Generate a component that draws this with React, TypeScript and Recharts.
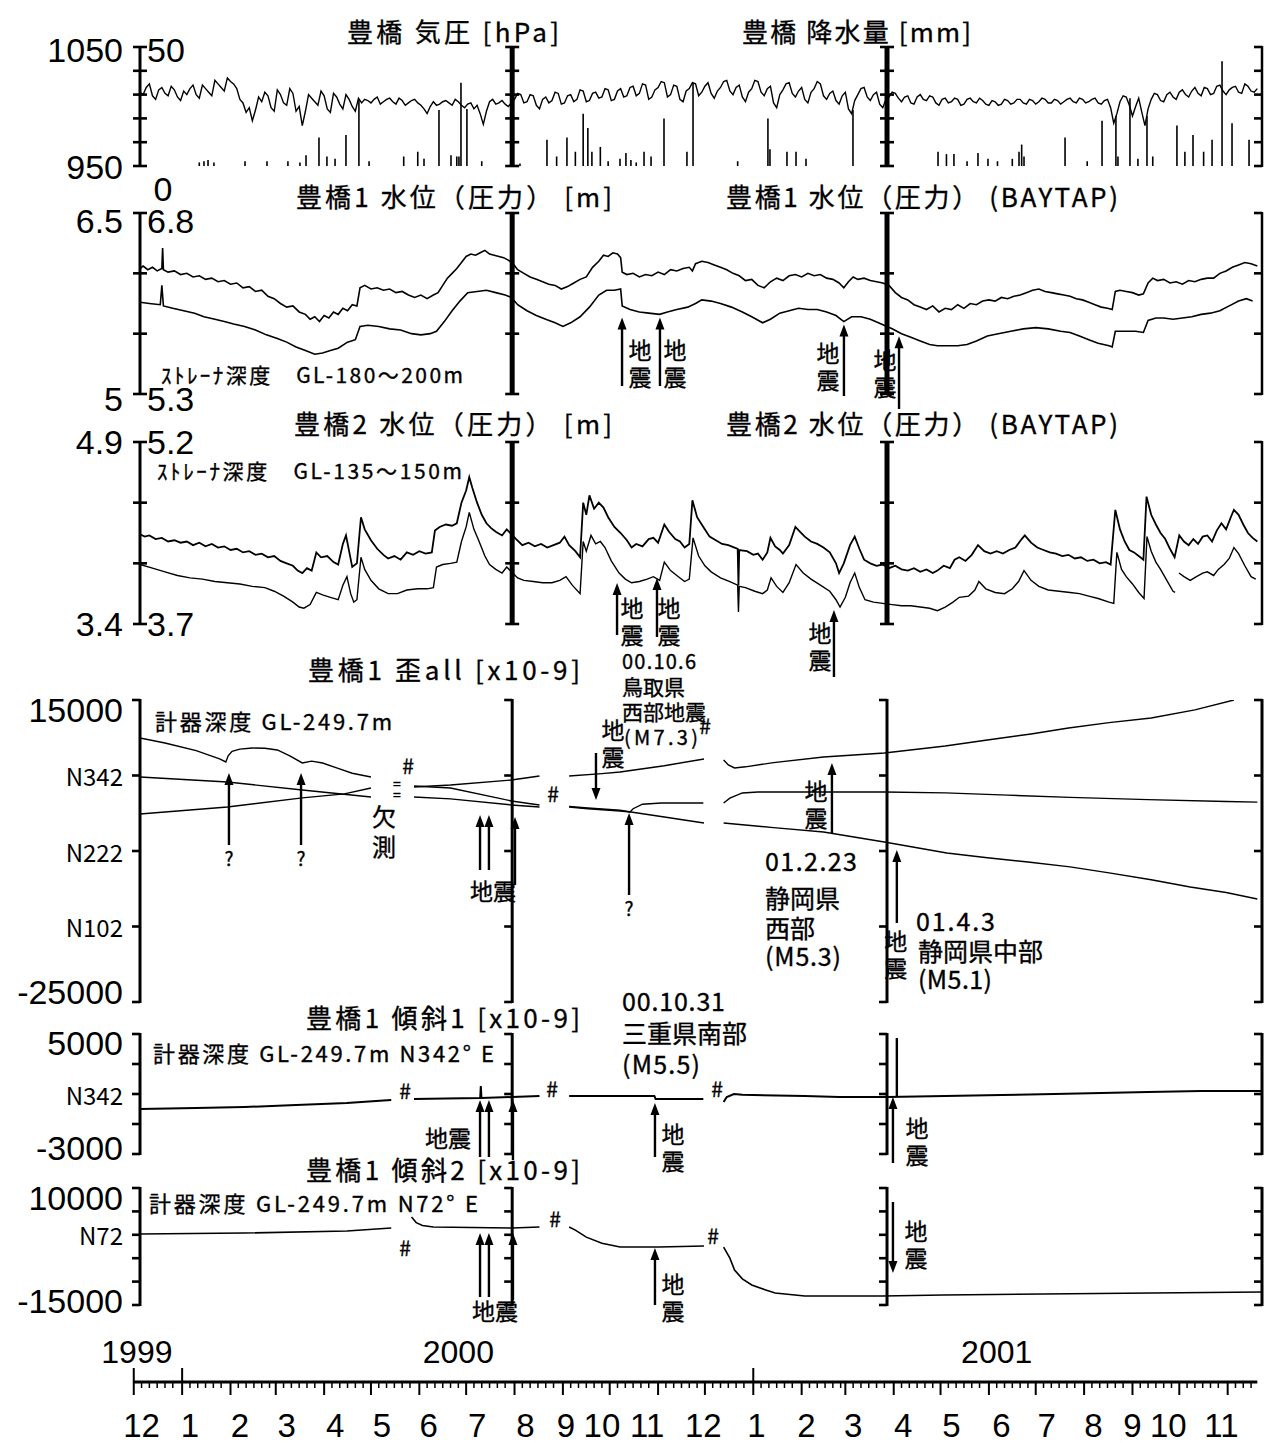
import React from "react";
import { ComposedChart, Line, Bar, XAxis, YAxis, ReferenceLine } from "recharts";

// x values are days counted from 1999-12-01
const W = 1267;
const H = 1443;
const D0 = 4;
const D1 = 723;
const JOINTS = [242.5, 482.7];
const PLOT_L = 140;
const PLOT_R = 1262;
const PX_DAY = (PLOT_R - PLOT_L) / (D1 - D0);

const JP = '"Noto Sans CJK JP", "Noto Sans", sans-serif';
const NUM = '"Liberation Sans", Arial, sans-serif';

// 豊橋 気圧 [hPa]: readings on days 4, 8, 12, ... and the in-between days 6, 10, 14, ...
const pressure = [
  1012, 1016, 1009, 1014, 1011, 1017, 1008, 1013, 1015, 1010, 1018, 1012, 1022, 1016, 1024, 1019,
  1006, 995, 988, 1008,
  1012, 999, 1014, 1003, 1015, 996,
  984, 1010, 1004, 1013, 998, 1011, 1002, 1010, 1000, 1007,
  1006, 1003, 1008, 1004, 1007, 1002, 1005, 1003, 1006, 1001, 994, 1004, 1002, 1005, 1001, 1004,
  999, 1003, 1001, 985, 1004, 1002, 1005, 1000,
  1006, 1010, 1004, 1009, 998, 1008, 1005, 1011, 1003, 1010, 1006, 1013, 1005, 1012, 1008, 1014,
  1006, 1015, 1009, 1017, 1011, 1018, 1008, 1016, 1020, 1010, 1017, 1004, 1015, 1019,
  1012, 1020, 1007, 1016, 1022, 1010, 1018, 1004, 1015, 1021, 1009, 1017, 999, 1014, 1020, 1008,
  1016, 1003, 1015, 1019, 1006, 1013, 1002, 1012, 994, 1010, 1016, 1005, 1012, 999, 1008,
  1011, 1004, 1009, 1002, 1010, 1005, 1008, 1001, 1007, 1004, 1006, 1002, 1007, 1003, 1005, 1001,
  1004, 1002, 1005, 1003, 1006, 1002, 1005, 1004, 1006, 1003, 1005, 1004, 1007, 1003, 1006, 1004,
  1007, 1002,
  1006, 986, 1004, 1008, 992, 1007, 984, 1006, 1010, 1004, 1012, 1006, 1014, 1008, 1016, 1009,
  1015, 1011, 1018, 1010, 1016, 1012, 1019, 1013, 1015,
];
const pressureMid = [
  1010, 1019, 1006, 1016, 1009, 1014, 1005, 1010, 1018, 1007, 1015, 1009, 1019, 1013, 1021, 1015,
  1003, 999, 997, 1004,
  1009, 996, 1010, 1001, 1011, 1000,
  996, 1007, 1001, 1009, 995, 1008, 998, 1006, 996, 1003,
  1005, 1006, 1002, 1006, 1004, 1007, 1001, 1005, 1003, 998, 1000, 1001, 1004, 1003, 1006, 1001,
  1002, 998, 994, 996, 1006, 1003, 1002, 1003,
  1011, 1003, 1010, 1001, 1006, 1003, 1012, 1002, 1009, 1004, 1014, 1004, 1011, 1007, 1015, 1005,
  1013, 1008, 1016, 1009, 1019, 1006, 1014, 1021, 1008, 1018, 1006, 1013, 1020, 1009,
  1017, 1011, 1013, 1021, 1013, 1016, 1008, 1012, 1022, 1012, 1015, 1003, 1010, 1019, 1011, 1013,
  1006, 1012, 1021, 1009, 1011, 1005, 1009, 998, 1005, 1015, 1008, 1010, 1002, 1006, 1012,
  1007, 1008, 1003, 1008, 1006, 1009, 1003, 1006, 1003, 1007, 1001, 1006, 1004, 1007, 1002, 1005,
  1001, 1006, 1002, 1006, 1003, 1006, 1002, 1007, 1003, 1006, 1002, 1006, 1004, 1007, 1003, 1006,
  1003, 1005,
  999, 994, 1009, 1001, 1000, 995, 998, 1011, 1005, 1010, 1008, 1012, 1010, 1013, 1011, 1016,
  1010, 1017, 1013, 1014, 1017, 1011, 1017, 1012,
];

// 豊橋 降水量 [mm]: [day, mm]
const rain = [
  [42, 1.5], [45, 2], [47.6, 2.5], [51.4, 1.5], [71.3, 2], [85.4, 2], [98.8, 2], [106.5, 1.5],
  [110.4, 4.5], [118.7, 12], [123.8, 4], [129, 3], [136, 13], [144.3, 28], [150.8, 2], [173, 4],
  [182, 6], [186, 3], [195.6, 23.5], [203.3, 4.5], [207, 4], [208.4, 4], [209.7, 35], [213.5, 24],
  [223, 2], [247.5, 1], [264.8, 11], [271, 4], [277.6, 12], [283, 6], [288, 22], [291, 16],
  [293.6, 6], [299, 8], [304, 2], [311.6, 3], [315.4, 5.5], [318.6, 2.5], [322, 1.5], [327, 6],
  [331.5, 4], [339.8, 20], [354.5, 6], [358.4, 35], [387, 2], [406.4, 20], [407.7, 7], [418.6, 6],
  [424.4, 6], [430.8, 3], [460.9, 23.5], [515.4, 6], [520.8, 5], [525.6, 5], [534, 2], [541, 5.5],
  [547.4, 3], [553.5, 2], [563, 3], [567.3, 6], [569, 9], [570.5, 4], [596.8, 12], [611, 2],
  [620.5, 19], [629.4, 21], [630.7, 4], [638.4, 28.5], [643.5, 3], [649.3, 21], [653, 4],
  [668.5, 17], [673.6, 6], [678.8, 13], [685.6, 6], [691, 11], [697.4, 44], [703.8, 18], [714.7, 11],
];

// 豊橋1 水位（圧力） [m]
const well1Raw = [
  [4, 6.04], [6, 6.06], [9, 6.03], [12, 6.05], [15, 6.02], [18, 6.04], [18.5, 6.21], [19, 6.03],
  [22, 6.01], [26, 6.02], [30, 5.99], [34, 6.0], [38, 5.97], [42, 5.98], [46, 5.95], [50, 5.96],
  [54, 5.93], [58, 5.94], [62, 5.91], [66, 5.92], [70, 5.88], [74, 5.89], [78, 5.85], [82, 5.86],
  [86, 5.81], [90, 5.79], [94, 5.75], [98, 5.72], [102, 5.73], [106, 5.68], [110, 5.66], [113, 5.62],
  [116, 5.64], [119, 5.6], [122, 5.65], [125, 5.63], [128, 5.68], [131, 5.66], [134, 5.71], [137, 5.69],
  [140, 5.74], [143, 5.73], [145, 5.88], [148, 5.9], [152, 5.87], [156, 5.88], [160, 5.86], [164, 5.87],
  [168, 5.84], [172, 5.85], [176, 5.82], [180, 5.8], [184, 5.82], [188, 5.79], [192, 5.82], [195, 5.84],
  [198, 5.9], [201, 5.96], [204, 6.0], [207, 6.04], [210, 6.09], [213, 6.14], [216, 6.16], [219, 6.15],
  [222, 6.17], [225, 6.19], [228, 6.16], [231, 6.15], [234, 6.14], [237, 6.13], [240, 6.11], [243, 6.08],
  [246, 6.03], [250, 6.0], [254, 5.97], [258, 5.95], [262, 5.93], [266, 5.91], [270, 5.9], [274, 5.87],
  [278, 5.89], [282, 5.92], [286, 5.95], [290, 5.97], [294, 6.05], [298, 6.1], [301, 6.15], [304, 6.14],
  [307, 6.17], [310, 6.16], [312, 6.13], [313, 6.01], [316, 5.99], [320, 6.0], [324, 5.97], [328, 5.99],
  [332, 5.98], [336, 6.01], [340, 5.99], [344, 6.03], [348, 6.02], [352, 6.04], [356, 6.05], [358, 6.02],
  [360, 6.08], [364, 6.1], [368, 6.09], [372, 6.07], [376, 6.05], [380, 6.03], [384, 6.0], [388, 5.98],
  [392, 5.94], [396, 5.95], [400, 5.9], [404, 5.88], [408, 5.93], [412, 5.96], [416, 5.94], [420, 5.98],
  [424, 5.99], [428, 5.97], [432, 6.0], [436, 5.98], [440, 5.99], [444, 5.96], [448, 5.95], [452, 5.92],
  [455, 5.88], [458, 5.93], [461, 5.97], [464, 5.95], [468, 5.96], [472, 5.94], [476, 5.93], [480, 5.92],
  [484, 5.9], [488, 5.84], [492, 5.8], [496, 5.78], [500, 5.74], [504, 5.72], [508, 5.7], [512, 5.73],
  [516, 5.68], [520, 5.71], [524, 5.7], [528, 5.74], [532, 5.71], [536, 5.75], [540, 5.74], [544, 5.77],
  [548, 5.78], [552, 5.77], [556, 5.8], [560, 5.79], [564, 5.81], [568, 5.82], [572, 5.84], [576, 5.86],
  [580, 5.87], [584, 5.85], [588, 5.84], [592, 5.83], [596, 5.82], [600, 5.81], [604, 5.79], [608, 5.78],
  [612, 5.76], [616, 5.74], [620, 5.72], [624, 5.71], [627, 5.7], [629, 5.85], [632, 5.86], [636, 5.85],
  [640, 5.84], [644, 5.82], [647, 5.83], [650, 5.92], [653, 5.96], [656, 5.94], [660, 5.95], [664, 5.92],
  [668, 5.93], [672, 5.91], [676, 5.94], [680, 5.93], [684, 5.95], [688, 5.96], [692, 5.96], [696, 6.0],
  [700, 6.02], [704, 6.05], [708, 6.07], [712, 6.09], [716, 6.08], [720, 6.06],
];

// 豊橋1 水位（圧力） (BAYTAP)
const well1Tidal = [
  [4, 6.06], [10, 6.05], [17, 6.04], [18, 6.2], [19, 6.03], [25, 6.01], [32, 5.99], [39, 5.97],
  [45, 5.94], [52, 5.92], [58, 5.9], [64, 5.88], [71, 5.86], [78, 5.83], [85, 5.79], [92, 5.76],
  [98, 5.73], [104, 5.69], [110, 5.66], [116, 5.63], [121, 5.64], [126, 5.66], [131, 5.68], [137, 5.73],
  [142, 5.75], [145, 5.86], [150, 5.87], [157, 5.86], [164, 5.84], [171, 5.83], [178, 5.8], [184, 5.79],
  [190, 5.8], [194, 5.82], [199, 5.9], [204, 5.99], [209, 6.07], [214, 6.14], [220, 6.15], [226, 6.16],
  [232, 6.14], [238, 6.12], [242, 6.1], [246, 6.04], [252, 5.99], [258, 5.95], [264, 5.92], [270, 5.89],
  [275, 5.86], [280, 5.89], [286, 5.94], [292, 6.02], [298, 6.12], [303, 6.16], [308, 6.16], [312, 6.17],
  [313, 6.03], [318, 6.0], [324, 5.98], [330, 5.97], [337, 5.96], [342, 5.98], [348, 6.0], [355, 6.02],
  [360, 6.05], [364, 6.08], [370, 6.07], [376, 6.05], [383, 6.02], [390, 5.98], [396, 5.94], [403, 5.89],
  [408, 5.92], [414, 5.97], [420, 5.99], [426, 6.01], [432, 6.0], [438, 6.0], [444, 5.98], [450, 5.95],
  [455, 5.9], [460, 5.94], [466, 5.94], [472, 5.92], [479, 5.88], [486, 5.84], [492, 5.8], [498, 5.77],
  [504, 5.74], [510, 5.71], [515, 5.7], [522, 5.7], [528, 5.7], [534, 5.71], [540, 5.74], [547, 5.78],
  [554, 5.8], [562, 5.82], [570, 5.84], [578, 5.85], [586, 5.84], [594, 5.82], [600, 5.81], [606, 5.78],
  [612, 5.75], [618, 5.72], [625, 5.7], [627, 5.69], [629, 5.82], [636, 5.82], [642, 5.82], [647, 5.81],
  [650, 5.91], [655, 5.93], [660, 5.93], [666, 5.92], [672, 5.93], [678, 5.94], [684, 5.96], [690, 5.97],
  [696, 5.99], [702, 6.03], [708, 6.07], [713, 6.09], [717, 6.07],
];

// 豊橋2 水位（圧力） [m]
const well2Raw = [
  [4, 4.14], [7, 4.12], [10, 4.13], [14, 4.1], [18, 4.11], [22, 4.08], [26, 4.09], [30, 4.07],
  [34, 4.08], [38, 4.05], [42, 4.07], [46, 4.04], [50, 4.06], [54, 4.03], [58, 4.04], [62, 4.01],
  [66, 4.02], [70, 3.99], [74, 4.0], [78, 3.97], [82, 3.98], [86, 3.95], [90, 3.96], [94, 3.92],
  [98, 3.9], [102, 3.88], [105, 3.84], [108, 3.82], [111, 3.86], [114, 3.84], [117, 3.99], [120, 3.95],
  [124, 3.96], [128, 3.91], [131, 3.89], [134, 4.06], [136, 4.13], [138, 4.0], [140, 3.87], [143, 3.9],
  [145.6, 4.28], [148, 4.18], [152, 4.09], [156, 4.02], [160, 3.97], [163, 3.94], [167, 3.96], [171, 3.93],
  [175, 3.99], [179, 3.97], [183, 4.0], [187, 3.98], [191, 3.99], [193, 4.17], [196, 4.2], [200, 4.22],
  [204, 4.21], [207, 4.23], [210, 4.4], [213, 4.5], [215, 4.61], [217, 4.52], [220, 4.4], [223, 4.3],
  [226, 4.23], [229, 4.19], [232, 4.16], [236, 4.13], [239, 4.18], [242, 4.14], [245, 4.1], [249, 4.05],
  [253, 4.07], [257, 4.04], [261, 4.06], [265, 4.03], [269, 4.05], [273, 4.07], [276, 4.12], [279, 4.05],
  [283, 4.0], [286, 3.95], [288, 4.4], [290, 4.3], [292, 4.46], [295, 4.35], [298, 4.4], [301, 4.36],
  [304, 4.28], [308, 4.2], [312, 4.15], [316, 4.09], [319, 4.03], [322, 4.06], [326, 4.04], [330, 4.1],
  [333, 4.11], [336, 4.07], [340, 4.22], [343, 4.16], [347, 4.1], [350, 4.08], [353, 4.03], [356, 4.06],
  [358, 4.42], [361, 4.28], [365, 4.2], [369, 4.12], [373, 4.09], [377, 4.06], [381, 4.05], [385, 4.03],
  [387, 4.02], [387.5, 3.72], [388, 4.01], [393, 4.0], [397, 3.97], [400, 3.98], [403, 3.93], [406, 3.99],
  [408, 4.11], [411, 4.04], [414, 4.01], [416, 3.98], [420, 4.05], [424, 4.2], [427, 4.16], [430, 4.12],
  [434, 4.08], [438, 4.06], [442, 4.03], [446, 3.99], [450, 3.9], [452, 3.82], [455, 3.9], [459, 4.05],
  [462, 4.12], [465, 4.02], [468, 3.93], [472, 3.9], [476, 3.88], [480, 3.89], [484, 3.86], [488, 3.88],
  [492, 3.85], [496, 3.84], [500, 3.86], [504, 3.83], [508, 3.85], [512, 3.82], [515, 3.84], [519, 3.88],
  [523, 3.86], [526, 3.93], [529, 3.95], [533, 3.92], [537, 3.97], [541, 4.05], [545, 4.0], [549, 3.98],
  [553, 4.0], [557, 3.98], [561, 4.01], [565, 4.03], [569, 4.1], [571, 4.13], [575, 4.07], [579, 4.03],
  [583, 4.01], [587, 3.99], [591, 3.98], [595, 3.96], [599, 3.97], [603, 3.94], [607, 3.95], [611, 3.92],
  [615, 3.93], [619, 3.9], [623, 3.91], [626, 3.89], [629, 4.34], [632, 4.18], [635, 4.08], [638, 4.01],
  [641, 3.99], [644, 3.96], [647, 3.93], [649, 4.45], [652, 4.3], [655, 4.22], [658, 4.15], [661, 4.1],
  [664, 4.02], [667, 3.95], [670, 4.13], [673, 4.08], [676, 4.05], [679, 4.1], [682, 4.06], [685, 4.12],
  [688, 4.13], [691, 4.08], [694, 4.17], [697, 4.23], [700, 4.18], [703, 4.28], [705, 4.34], [708, 4.3],
  [711, 4.22], [714, 4.15], [717, 4.11], [720, 4.08],
];

// 豊橋2 水位（圧力） (BAYTAP)
const well2Tidal = [
  [4, 4.19], [12, 4.16], [20, 4.13], [28, 4.1], [36, 4.08], [44, 4.07], [52, 4.05], [60, 4.04],
  [68, 4.03], [76, 4.01], [84, 4.0], [90, 3.97], [96, 3.93], [102, 3.88], [106, 3.84], [109, 3.83],
  [113, 3.86], [117, 3.96], [121, 3.94], [126, 3.92], [131, 3.9], [134, 4.02], [136.6, 4.09], [139, 3.95],
  [141, 3.88], [143, 3.9], [145.6, 4.25], [148, 4.15], [152, 4.06], [157, 3.99], [163, 3.95], [169, 3.95],
  [175, 3.98], [182, 3.99], [188, 3.99], [192, 4.0], [194, 4.17], [198, 4.19], [203, 4.2], [207, 4.21],
  [210, 4.38], [213, 4.5], [215, 4.62], [218, 4.48], [221, 4.39], [225, 4.26], [228, 4.19], [232, 4.15],
  [236, 4.12], [239, 4.17], [242, 4.13], [246, 4.08], [250, 4.06], [256, 4.05], [262, 4.04], [268, 4.04],
  [273, 4.06], [277, 4.09], [281, 4.02], [286, 3.95], [288, 4.38], [290, 4.3], [293, 4.43], [296, 4.36],
  [299, 4.38], [302, 4.33], [306, 4.22], [311, 4.12], [315, 4.07], [319, 4.04], [324, 4.05], [329, 4.07],
  [333, 4.09], [337, 4.06], [340, 4.21], [344, 4.14], [349, 4.09], [353, 4.05], [356, 4.07], [358.4, 4.41],
  [362, 4.26], [366, 4.18], [370, 4.13], [376, 4.08], [382, 4.05], [387, 4.02], [387.5, 3.8], [388, 4.01],
  [392, 4.0], [398, 3.97], [403, 3.95], [406, 3.98], [408.4, 4.08], [412, 4.01], [416, 3.96], [420, 4.04],
  [424.4, 4.19], [429, 4.12], [434, 4.07], [440, 4.02], [446, 3.97], [450, 3.9], [452.6, 3.84], [456, 3.92],
  [459, 4.04], [462, 4.12], [465, 4.0], [468.6, 3.9], [474, 3.88], [480, 3.87], [486, 3.86], [492, 3.85],
  [498, 3.85], [504, 3.84], [510, 3.83], [515, 3.81], [520, 3.84], [525, 3.88], [529, 3.92], [535, 3.93],
  [539, 3.98], [541.6, 4.05], [546, 3.99], [552, 3.96], [558, 3.95], [563, 3.99], [567, 4.05], [570.5, 4.14],
  [575, 4.06], [580, 4.01], [586, 3.98], [593, 3.97], [600, 3.96], [606, 3.95], [612, 3.93], [618, 3.91],
  [625, 3.88], [628, 3.87], [630, 4.29], [633, 4.15], [636, 4.09], [640, 4.03], [644, 3.96], [647.4, 3.91],
  [649.3, 4.42], [652, 4.3], [655, 4.21], [658, 4.15], [662, 4.06], [666, 3.97], [667.3, 3.96], [667.5, null],
  [669.8, 4.12], [673, 4.09], [677, 4.06], [681, 4.09], [685, 4.12], [688, 4.13], [692, 4.1], [695, 4.15],
  [698.7, 4.19], [702, 4.24], [705, 4.33], [708, 4.28], [712, 4.18], [716, 4.09], [719, 4.07],
];

// 豊橋1 歪 [x10-9], three components (null = 欠測)
const strainA = [
  [4, 9970], [20, 9300], [40, 8300], [55, 7200], [59, 6790], [60.5, 7600], [63, 8200], [68, 8500],
  [76, 8640], [84, 8600], [92, 8380], [100, 7600], [108, 6660], [114, 6900], [121, 6660], [130, 6000],
  [140, 5300], [152, 4800], [153, null], [179.6, 2160], [203, 1900], [242, 1100], [260, 830], [261, null],
  [279, 830], [291, 600], [311.6, 300], [318, 170], [320, 600], [326, 1200], [338, 1360], [365, 1360],
  [366, null], [378, 1360], [382, 2000], [390, 2690], [400, 2820], [442, 2820], [481, 2820], [520, 2700],
  [560, 2400], [600, 2100], [650, 1800], [700, 1550], [720, 1480],
];
const strainB = [
  [4, 4800], [60, 4140], [108, 3080], [152, 2160], [153, null], [179.6, 3610], [203, 3350], [242, 1630],
  [260, 1100], [261, null], [279, 900], [291, 700], [311.6, 400], [318.6, 170], [340, -500], [365.4, -1290],
  [366, null], [378, -1290], [410, -1900], [442, -2480], [481, -3800], [521, -5260], [547, -5900],
  [573, -6450], [600, -7100], [625, -7900], [652, -8800], [677, -9760], [700, -10500], [720, -11350],
];
const strainC = [
  [4, -90], [60, 830], [108, 2030], [135, 2560], [152, 3350], [153, null], [179.6, 3480], [203, 3750],
  [242, 4400], [260, 4940], [261, null], [279, 4940], [300, 5250], [311.6, 5470], [340, 6300],
  [365.4, 7190], [366, null], [378, 7060], [381, 6400], [385, 6000], [392, 6150], [410, 6700], [442, 7450],
  [481, 7980], [520, 8900], [547, 9700], [575, 10500], [599, 11290], [625, 12000], [652, 12620],
  [680, 13700], [705, 15000],
];

// 豊橋1 傾斜1 / 傾斜2 [x10-9]
const tilt1 = [
  [4, 0], [40, 60], [71, 130], [100, 250], [136.6, 400], [160, 560], [165, 600], [166, null], [179.6, 670],
  [200, 700], [222, 730], [222.4, 1530], [222.8, 730], [242.4, 800], [260, 870], [261, null], [279, 870],
  [311, 870], [333.6, 870], [334.4, 670], [365, 670], [366, null], [378, 470], [380, 800], [384.6, 1000],
  [390, 950], [430, 870], [452, 800], [483, 800], [520, 860], [556, 930], [590, 1000], [620, 1070],
  [650, 1130], [684, 1200], [723, 1200],
];
const tilt2 = [
  [4, 170], [71, 380], [136.6, 810], [165, 1450], [166, null], [178, 3800], [181, 2600], [185, 2000],
  [192, 1660], [242.4, 1450], [260, 1660], [261, null], [279, 1660], [283, 1000], [290, -500], [300, -1800],
  [311.6, -2610], [336.6, -2610], [365.4, -2400], [366, null], [378, -2610], [382, -5000], [385, -7520],
  [390, -9400], [396, -10730], [405, -11800], [411, -12440], [430, -13080], [480, -13080], [519, -12870],
  [600, -12600], [723, -12220],
];

// bottom time axis
const monthStarts = [0, 31, 62, 91, 122, 152, 183, 213, 244, 275, 305, 336, 366, 397, 428, 456, 487, 517, 548, 578, 609, 640, 670, 701];
const monthLabels = ["12", "1", "2", "3", "4", "5", "6", "7", "8", "9", "10", "11", "12", "1", "2", "3", "4", "5", "6", "7", "8", "9", "10", "11"];
const monthLabelDays = [5, 36, 68, 98, 129, 159, 189, 220, 251, 277, 300, 329, 365, 399, 431, 461, 493, 524, 556, 585, 615, 640, 663, 697];
const yearStarts = [0, 31, 397];
const yearLabels = ["1999", "2000", "2001"];
const yearLabelDays = [2, 208, 553];

// earthquake arrows: day, tail value, head value, label placement
const arrowsWell1 = [
  { d: 312.9, from: 5.066, to: 5.635, text: "地震", mode: "v", dx: 18, dy: -37 },
  { d: 337.2, from: 5.066, to: 5.635, text: "地震", mode: "v", dx: 15, dy: -37 },
  { d: 455.1, from: 4.983, to: 5.577, text: "地震", mode: "v", dx: -16, dy: -44 },
  { d: 490.4, from: 4.876, to: 5.478, text: "地震", mode: "v", dx: -14, dy: -50 },
];
const arrowsWell2 = [
  { d: 309.7, from: 3.309, to: 3.738, text: "地震", mode: "v", dx: 15, dy: -28 },
  { d: 335.3, from: 3.293, to: 3.779, text: "地震", mode: "v", dx: 12, dy: -30 },
  { d: 448.7, from: 2.963, to: 3.515, text: "地震", mode: "v", dx: -14, dy: -45 },
];
const arrowsStrain = [
  { d: 61.0, from: -4205, to: 5331, text: "?", mode: "h", dx: 0, dy: 13 },
  { d: 107.2, from: -4205, to: 5331, text: "?", mode: "h", dx: 0, dy: 13 },
  { d: 221.9, from: -7517, to: -232 },
  { d: 227.6, from: -7517, to: -232, text: "地震", mode: "h", dx: 4, dy: 20 },
  { d: 244.3, from: -9503, to: -497 },
  { d: 296.2, from: 7980, to: 1755, text: "地震", mode: "v", dx: 17, dy: -24 },
  { d: 317.4, from: -10828, to: 33, text: "?", mode: "h", dx: 0, dy: 12 },
  { d: 447.4, from: -2616, to: 6656, text: "地震", mode: "v", dx: -16, dy: -43 },
  { d: 489.0, from: -14536, to: -4868, text: "地震", mode: "v", dx: -1, dy: 17 },
];
const arrowsTilt1 = [
  { d: 221.9, from: -3200, to: 600, text: "地震", mode: "h", dx: -32, dy: -20 },
  { d: 227.6, from: -3200, to: 600 },
  { d: 243.0, from: -3400, to: 600 },
  { d: 334.0, from: -3200, to: 400, text: "地震", mode: "v", dx: 18, dy: -24 },
  { d: 486.5, from: -3600, to: 800, text: "地震", mode: "v", dx: 24, dy: -36 },
  { d: 489.0, from: 4733, to: 800, head: false },
];
const arrowsTilt2 = [
  { d: 221.9, from: -13291, to: 384 },
  { d: 227.6, from: -13291, to: 384, text: "地震", mode: "h", dx: 6, dy: 13 },
  { d: 243.0, from: -13932, to: 384 },
  { d: 334.0, from: -15000, to: -2821, text: "地震", mode: "v", dx: 18, dy: -22 },
  { d: 486.5, from: 7009, to: -8162, text: "地震", mode: "v", dx: 23, dy: 28 },
];

const rows = (pairs: any[]) => pairs.map(([d, v]) => ({ d, v }));
const pressureRows = [
  ...pressure.map((v, i) => ({ d: 4 + i * 4, v })),
  ...pressureMid.map((v, i) => ({ d: 6 + i * 4, v })),
].sort((a, b) => a.d - b.d);
const rainRows = rain.map(([d, mm]) => ({ d, mm }));

const PAD_T = 70;
const PAD_B = 110;

// vertical axis bar with evenly spaced ticks; "cross" ticks stick out both sides
function axisShape(n: number, weight: number, cross: boolean) {
  return (p: any) => {
    const x = p.x1;
    const ya = Math.min(p.y1, p.y2);
    const yb = Math.max(p.y1, p.y2);
    const marks = [];
    for (let i = 0; i <= n; i++) {
      const y = ya + ((yb - ya) * i) / n;
      marks.push(
        <line key={i} x1={cross ? x - 7 : x - 8} x2={cross ? x + 7 : x} y1={y} y2={y} stroke="#000" strokeWidth={2.6} />
      );
    }
    return (
      <g>
        <line x1={x} x2={x} y1={ya - 1} y2={yb + 1} stroke="#000" strokeWidth={weight} />
        {marks}
      </g>
    );
  };
}

function arrowShape(a: any) {
  return (p: any) => {
    const { x1, y1, x2, y2 } = p;
    const dir = y2 < y1 ? -1 : 1;
    const head = a.head !== false;
    const hl = 12;
    const hw = 4.5;
    let label = null;
    if (a.text && a.mode === "v") {
      label = a.text.split("").map((c: string, i: number) => (
        <text key={i} x={x1 + a.dx} y={y1 + a.dy + i * 27} fontSize={23} fontFamily={JP} textAnchor="middle" dominantBaseline="central" fill="#000" stroke="#000" strokeWidth={0.35}>
          {c}
        </text>
      ));
    } else if (a.text) {
      label = (
        <text x={x1 + a.dx} y={y1 + a.dy} fontSize={a.text === "?" ? 19 : 23} fontFamily={JP} textAnchor="middle" dominantBaseline="central" fill="#000" stroke="#000" strokeWidth={0.35}>
          {a.text}
        </text>
      );
    }
    return (
      <g>
        <line x1={x1} y1={y1} x2={x2} y2={head ? y2 - dir * hl * 0.6 : y2} stroke="#000" strokeWidth={2.4} />
        {head && <polygon points={`${x2},${y2} ${x2 - hw},${y2 - dir * hl} ${x2 + hw},${y2 - dir * hl}`} fill="#000" />}
        {label}
      </g>
    );
  };
}

function arrowLines(list: any[]) {
  return list.map((a, i) => (
    <ReferenceLine
      key={`arrow-${i}`}
      yAxisId="l"
      ifOverflow="visible"
      segment={[{ x: a.d, y: a.from }, { x: a.d, y: a.to }]}
      shape={arrowShape(a)}
    />
  ));
}

// thin black stick for each rain reading
const rainStick = (p: any) => {
  const cx = p.x + p.width / 2;
  return <line x1={cx} x2={cx} y1={p.y} y2={p.y + p.height} stroke="#000" strokeWidth={1.6} />;
};

type PanelProps = {
  top: number;
  bottom: number;
  domain: [number, number];
  rightDomain?: [number, number];
  n: number;
  beam: boolean;
  leftLabels: Record<string, string>;
  rightLabels?: Record<string, string>;
  topShift: number;
  bottomShift: number;
  zeroBelow?: boolean;
  data?: any[];
  children: React.ReactNode;
};

function Panel(props: PanelProps) {
  const { top, bottom, domain, rightDomain, n, beam, leftLabels, rightLabels, topShift, bottomShift, zeroBelow, data, children } = props;
  const ticks = Object.keys(leftLabels).map(Number);

  const renderTick = (tp: any) => {
    const v = tp.payload.value;
    const y = tp.y + (v === domain[1] ? topShift : v === domain[0] ? bottomShift : 0);
    const left = leftLabels[String(v)];
    const right = rightLabels ? rightLabels[String(v)] : undefined;
    const small = left && left.startsWith("N");
    return (
      <g>
        {left && (
          <text x={PLOT_L - 17} y={y} textAnchor="end" dominantBaseline="central" fontSize={small ? 24 : 34} fontFamily={small ? JP : NUM} fill="#000">
            {left}
          </text>
        )}
        {right && (zeroBelow && v === domain[0] ? (
          <text x={PLOT_L + 23} y={y + 22} textAnchor="middle" dominantBaseline="central" fontSize={34} fontFamily={NUM} fill="#000">
            {right}
          </text>
        ) : (
          <text x={PLOT_L + 7} y={y} textAnchor="start" dominantBaseline="central" fontSize={34} fontFamily={NUM} fill="#000">
            {right}
          </text>
        ))}
      </g>
    );
  };

  const frames = [D0, JOINTS[0], JOINTS[1], D1].map((d, i) => {
    const edge = i === 3;
    const weight = beam ? (i === 0 ? 3 : edge ? 2.5 : 5) : 3;
    const cross = beam && !edge;
    return <ReferenceLine key={`frame-${i}`} yAxisId="l" x={d} ifOverflow="visible" shape={axisShape(n, weight, cross)} />;
  });

  return (
    <div style={{ position: "absolute", left: 0, top: top - PAD_T }}>
      <ComposedChart
        width={W}
        height={bottom - top + PAD_T + PAD_B}
        margin={{ top: PAD_T, bottom: PAD_B, left: PLOT_L - 60, right: W - PLOT_R }}
        data={data}
      >
        <XAxis type="number" dataKey="d" domain={[D0, D1]} allowDataOverflow hide />
        <YAxis
          yAxisId="l"
          width={60}
          domain={domain}
          ticks={ticks}
          interval={0}
          allowDataOverflow
          axisLine={false}
          tickLine={false}
          tickSize={0}
          tickMargin={0}
          tick={renderTick}
        />
        <YAxis yAxisId="r" hide domain={rightDomain || domain} allowDataOverflow />
        {frames}
        {children}
      </ComposedChart>
    </div>
  );
}

const seriesLine = (key: string, axis: string, d: any[], w = 1.6) => (
  <Line
    key={key}
    yAxisId={axis}
    data={d}
    dataKey="v"
    type="linear"
    stroke="#000"
    strokeWidth={w}
    dot={false}
    activeDot={false}
    isAnimationActive={false}
  />
);

function TimeAxis() {
  const minor: number[] = [];
  monthStarts.forEach((m, i) => {
    const next = i + 1 < monthStarts.length ? monthStarts[i + 1] : 731;
    for (let k = 5; k <= 25; k += 5) if (m + k < next && m + k <= 720) minor.push(m + k);
  });
  const all = Array.from(new Set([...monthStarts, ...minor, ...monthLabelDays, ...yearLabelDays])).sort((a, b) => a - b);

  const renderTick = (tp: any) => {
    const { x, y } = tp;
    const v = tp.payload.value;
    const parts = [];
    if (monthStarts.includes(v)) parts.push(<line key="m" x1={x} x2={x} y1={y} y2={y + 13} stroke="#000" strokeWidth={2} />);
    if (minor.includes(v)) parts.push(<line key="n" x1={x} x2={x} y1={y} y2={y + 6} stroke="#000" strokeWidth={1.5} />);
    if (yearStarts.includes(v)) parts.push(<line key="y" x1={x} x2={x} y1={y - 14} y2={y} stroke="#000" strokeWidth={2} />);
    const li = monthLabelDays.indexOf(v);
    if (li >= 0)
      parts.push(
        <text key="ml" x={x} y={y + 43} textAnchor="middle" dominantBaseline="central" fontSize={33} fontFamily={NUM} fill="#000">
          {monthLabels[li]}
        </text>
      );
    const yi = yearLabelDays.indexOf(v);
    if (yi >= 0)
      parts.push(
        <text key="yl" x={x} y={y - 30} textAnchor="middle" dominantBaseline="central" fontSize={32} fontFamily={NUM} fill="#000">
          {yearLabels[yi]}
        </text>
      );
    return <g>{parts}</g>;
  };

  const left = PLOT_L - D0 * PX_DAY;
  const right = W - (left + 720 * PX_DAY);
  return (
    <div style={{ position: "absolute", left: 0, top: 1330 }}>
      <ComposedChart width={W} height={113} margin={{ top: 52, bottom: 0, left, right }}>
        <XAxis
          type="number"
          dataKey="d"
          domain={[0, 720]}
          allowDataOverflow
          ticks={all}
          interval={0}
          height={61}
          axisLine={{ stroke: "#000", strokeWidth: 3 }}
          tickLine={false}
          tickSize={0}
          tickMargin={0}
          tick={renderTick}
        />
        <YAxis hide domain={[0, 1]} />
      </ComposedChart>
    </div>
  );
}

// annotation text; w stretches the spacing to a fixed run length
function T({ x, y, s = 26, anchor = "start", w, children }: any) {
  return (
    <text
      x={x}
      y={y}
      fontSize={s}
      fontFamily={JP}
      textAnchor={anchor}
      dominantBaseline="central"
      fill="#000"
      stroke="#000"
      strokeWidth={0.35}
      textLength={w}
      lengthAdjust={w ? "spacing" : undefined}
    >
      {children}
    </text>
  );
}

function Notes() {
  return (
    <svg width={W} height={H} style={{ position: "absolute", left: 0, top: 0, pointerEvents: "none" }}>
      <T x={347} y={30} w={212}>豊橋 気圧 [hPa]</T>
      <T x={742} y={30} w={229}>豊橋 降水量 [mm]</T>
      <T x={296} y={195} w={316}>豊橋1 水位（圧力） [m]</T>
      <T x={726} y={195} w={392}>豊橋1 水位（圧力） (BAYTAP)</T>
      <T x={294} y={422} w={318}>豊橋2 水位（圧力） [m]</T>
      <T x={726} y={422} w={392}>豊橋2 水位（圧力） (BAYTAP)</T>
      <T x={308} y={668} w={272}>豊橋1 歪all [x10-9]</T>
      <T x={306} y={1016} w={274}>豊橋1 傾斜1 [x10-9]</T>
      <T x={306} y={1168} w={274}>豊橋1 傾斜2 [x10-9]</T>

      <T x={161} y={374} s={21} w={302}>ｽﾄﾚｰﾅ深度　GL-180～200m</T>
      <T x={157} y={470} s={21} w={305}>ｽﾄﾚｰﾅ深度　GL-135～150m</T>
      <T x={155} y={720} s={22} w={237}>計器深度 GL-249.7m</T>
      <T x={153} y={1052} s={22} w={341}>計器深度 GL-249.7m N342° E</T>
      <T x={149} y={1202} s={22} w={329}>計器深度 GL-249.7m N72° E</T>

      <T x={622} y={660} s={20} w={74}>00.10.6</T>
      <T x={622} y={686} s={21}>鳥取県</T>
      <T x={622} y={711} s={21}>西部地震</T>
      <T x={624} y={736} s={20} w={74}>(M7.3)</T>

      <T x={622} y={1000} s={25} w={103}>00.10.31</T>
      <T x={622} y={1032} s={25}>三重県南部</T>
      <T x={622} y={1063} s={25} w={78}>(M5.5)</T>

      <T x={765} y={860} s={25} w={92}>01.2.23</T>
      <T x={765} y={897} s={25}>静岡県</T>
      <T x={765} y={927} s={25}>西部</T>
      <T x={765} y={955} s={25} w={76}>(M5.3)</T>

      <T x={916} y={920} s={25} w={79}>01.4.3</T>
      <T x={918} y={950} s={25}>静岡県中部</T>
      <T x={918} y={978} s={25} w={74}>(M5.1)</T>

      <T x={384} y={815} s={24} anchor="middle">欠</T>
      <T x={384} y={845} s={24} anchor="middle">測</T>
      <T x={397} y={783} s={14} anchor="middle">=</T>
      <T x={397} y={794} s={14} anchor="middle">=</T>

      {[
        [408, 765], [553, 793], [705, 725],
        [405, 1090], [552, 1088], [717, 1088],
        [405, 1247], [555, 1218], [713, 1235],
      ].map(([x, y], i) => (
        <T key={i} x={x} y={y} s={21} anchor="middle">#</T>
      ))}
    </svg>
  );
}

export default function App() {
  return (
    <div style={{ position: "absolute", left: 0, top: 0, width: W, height: H, background: "#fff", overflow: "hidden" }}>
      <Panel
        top={47}
        bottom={166}
        domain={[950, 1050]}
        rightDomain={[0, 50]}
        n={5}
        beam
        leftLabels={{ "1050": "1050", "950": "950" }}
        rightLabels={{ "1050": "50", "950": "0" }}
        topShift={3}
        bottomShift={1}
        zeroBelow
        data={rainRows}
      >
        <Bar yAxisId="r" dataKey="mm" barSize={2} fill="#000" shape={rainStick} isAnimationActive={false} />
        {seriesLine("pressure", "l", pressureRows, 1.4)}
      </Panel>

      <Panel
        top={213}
        bottom={394}
        domain={[5, 6.5]}
        rightDomain={[5.3, 6.8]}
        n={3}
        beam
        leftLabels={{ "6.5": "6.5", "5": "5" }}
        rightLabels={{ "6.5": "6.8", "5": "5.3" }}
        topShift={8}
        bottomShift={5}
      >
        {seriesLine("w1raw", "l", rows(well1Raw))}
        {seriesLine("w1tidal", "r", rows(well1Tidal))}
        {arrowLines(arrowsWell1)}
      </Panel>

      <Panel
        top={442}
        bottom={624}
        domain={[3.4, 4.9]}
        rightDomain={[3.7, 5.2]}
        n={3}
        beam
        leftLabels={{ "4.9": "4.9", "3.4": "3.4" }}
        rightLabels={{ "4.9": "5.2", "3.4": "3.7" }}
        topShift={0}
        bottomShift={0}
      >
        {seriesLine("w2raw", "l", rows(well2Raw), 1.8)}
        {seriesLine("w2tidal", "r", rows(well2Tidal), 1.4)}
        {arrowLines(arrowsWell2)}
      </Panel>

      <Panel
        top={700}
        bottom={1002}
        domain={[-25000, 15000]}
        n={4}
        beam={false}
        leftLabels={{ "15000": "15000", "5000": "N342", "-5000": "N222", "-15000": "N102", "-25000": "-25000" }}
        topShift={10}
        bottomShift={-10}
      >
        {seriesLine("sa", "l", rows(strainA), 1.4)}
        {seriesLine("sb", "l", rows(strainB), 1.4)}
        {seriesLine("sc", "l", rows(strainC), 1.4)}
        {arrowLines(arrowsStrain)}
      </Panel>

      <Panel
        top={1034}
        bottom={1154}
        domain={[-3000, 5000]}
        n={4}
        beam={false}
        leftLabels={{ "5000": "5000", "1000": "N342", "-3000": "-3000" }}
        topShift={9}
        bottomShift={-6}
      >
        {seriesLine("t1", "l", rows(tilt1), 2)}
        {arrowLines(arrowsTilt1)}
      </Panel>

      <Panel
        top={1188}
        bottom={1305}
        domain={[-15000, 10000]}
        n={5}
        beam={false}
        leftLabels={{ "10000": "10000", "0": "N72", "-15000": "-15000" }}
        topShift={10}
        bottomShift={-4}
      >
        {seriesLine("t2", "l", rows(tilt2), 1.6)}
        {arrowLines(arrowsTilt2)}
      </Panel>

      <TimeAxis />
      <Notes />
    </div>
  );
}
